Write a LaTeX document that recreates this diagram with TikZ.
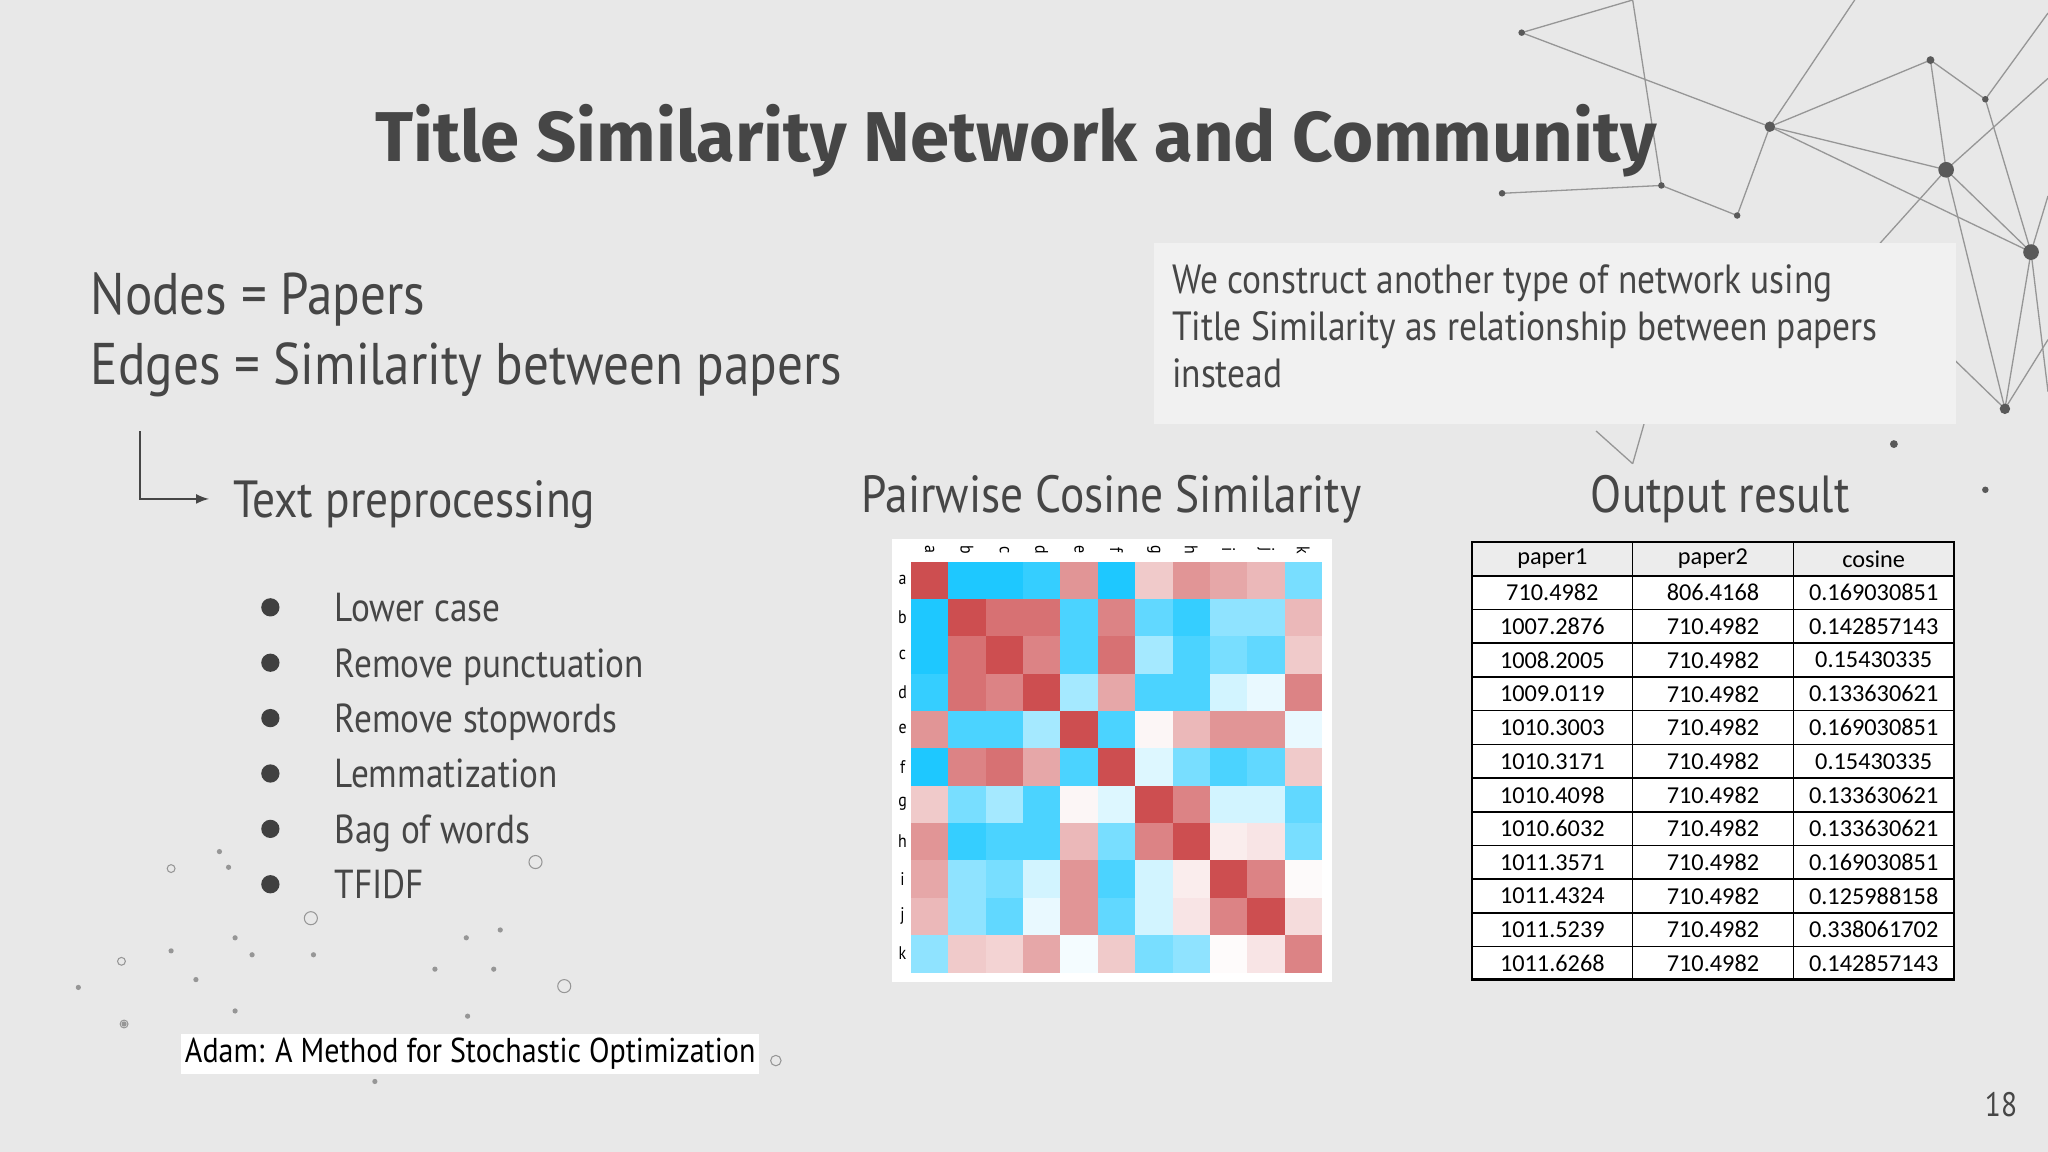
\documentclass[tikz,border=0pt]{standalone}
\usepackage{fontspec}
\setmainfont[FakeStretch=0.87]{PT Sans}
\newfontfamily\titlefont{Fira Sans}
\newfontfamily\tabfont{Carlito}
\definecolor{bgc}{RGB}{232,232,232}
\definecolor{txt}{RGB}{70,70,70}
\definecolor{hred}{RGB}{205,78,80}
\definecolor{hblue}{RGB}{30,200,255}
\definecolor{netc}{RGB}{150,150,150}
\begin{document}
\begin{tikzpicture}[x=0.5pt,y=-0.5pt,
  body/.style={anchor=base west,text=txt,inner sep=0},
  bul/.style={anchor=base west,text=txt,inner sep=0,font=\fontsize{15.5}{18}\selectfont},
  cell/.style={draw=black,line width=0.6pt,minimum width=61.5pt,minimum height=12.9pt,inner sep=0,font=\tabfont\fontsize{9.3}{10}\selectfont},
  net/.style={netc,line width=0.5pt},
  dotc/.style={netc,line width=0.4pt}]
\fill[bgc] (0,0) rectangle (1568,882);
\useasboundingbox (0,0) rectangle (1568,882);
% network decoration
\foreach \a/\b/\c/\d in {1165/25/1250/0, 1165/25/1355/97, 1355/97/1478/46, 1355/97/1490/130, 1478/46/1490/130, 1490/130/1555/193, 1520/76/1555/193, 1478/46/1520/76, 1355/97/1555/193, 1555/193/1535/313, 1490/130/1535/313, 1150/148/1272/142, 1272/142/1330/165, 1330/165/1355/97, 1355/97/1420/0, 1490/130/1568/60, 1555/193/1568/300, 1535/313/1568/260, 1520/76/1568/10, 1555/193/1568/150, 1272/142/1250/0, 1490/130/1400/230, 1535/313/1470/250, 1222/330/1250/355, 1250/355/1260/320}
  {\draw[net] (\a,\b) -- (\c,\d);}
\foreach \a/\b/\r in {1165/25/2.5,1355/97/4,1478/46/3,1490/130/6,1555/193/6,1520/76/2.5,1535/313/4,1150/148/2.5,1272/142/2.5,1330/165/2.5,1450/340/3,1520/375/2.5}
  {\fill[gray!70!black] (\a,\b) circle (\r);}
% bottom-left dots
\foreach \a/\b in {168/652,175/664,180/718,131/728,193/731,240/731,150/750,357/718,383/712,333/742,358/778,378/742,180/774,60/756,95/784,287/828}
  {\fill[netc] (\a,\b) circle (2);}
\foreach \a/\b/\r in {131/665/3,238/703/5,410/660/5,432/755/5,93/736/3,95/784/3,594/812/4}
  {\draw[dotc] (\a,\b) circle (\r);}
% title
\node[text=txt,font=\titlefont\bfseries\fontsize{27}{32}\selectfont] (title) at (778,108) {Title Similarity Network and Community};
% left
\node[body,font=\fontsize{22.5}{27}\selectfont] (nodes) at (69,241) {Nodes = Papers};
\node[body,font=\fontsize{22.5}{27}\selectfont] (edges) at (69,294) {Edges = Similarity between papers};
\coordinate (ac) at (107,330);
\node[body,font=\fontsize{20}{24}\selectfont] (tp) at (178,396) {Text preprocessing};
\draw[txt,line width=0.7pt,-latex] (ac) |- (160,382);
\foreach \t [count=\i] in {Lower case,Remove punctuation,Remove stopwords,Lemmatization,Bag of words,TFIDF}{
  \fill[black!75] (207,{465+42.4*(\i-1)}) circle (7);
  \node[bul] (b\i) at (256,{476+42.4*(\i-1)}) {\t};
}
\node[fill=white,inner sep=1.5pt,font=\fontsize{13.2}{15}\selectfont,text=black] (ref) at (360,807) {Adam: A Method for Stochastic Optimization};
% right box
\node[fill=bgc!60!white,anchor=north west,minimum width=307pt,minimum height=69pt,inner sep=0] (box) at (883,186) {};
\node[anchor=north west,text=txt,align=left,font=\fontsize{15.6}{18}\selectfont,inner sep=0] (boxt) at (897,202) {We construct another type of network using\\Title Similarity as relationship between papers\\instead};
% headings
\node[text=txt,font=\fontsize{20}{24}\selectfont] (pcs) at (851,382) {Pairwise Cosine Similarity};
\node[text=txt,font=\fontsize{20}{24}\selectfont] (out) at (1317,382) {Output result};
% heatmap
\fill[white] (683,413) rectangle (1020,752);
\def\cs{28.6}
\foreach \row [count=\r] in {
 {10,-10,-10,-9,6,-10,3,6,5,4,-6},
 {-10,10,8,8,-8,7,-7,-9,-5,-5,4},
 {-10,8,10,7,-8,8,-4,-8,-6,-7,3},
 {-9,8,7,10,-4,5,-8,-8,-2,-1,7},
 {6,-8,-8,-4,10,-8,0.5,4,6,6,-1},
 {-10,7,8,5,-8,10,-1.5,-6,-8,-7,3},
 {3,-6,-4,-8,0.5,-1.5,10,7,-2,-2,-7},
 {6,-9,-8,-8,4,-6,7,10,1,1.5,-6},
 {5,-5,-6,-2,6,-8,-2,1,10,7,0.3},
 {4,-5,-7,-1,6,-7,-2,1.5,7,10,2},
 {-5,3,2.5,5,-0.5,3,-6,-5,0.2,1.5,7}}{
  \foreach \v [count=\c] in \row {
    \pgfmathsetmacro\pc{abs(\v)*10}
    \pgfmathparse{\v>=0?1:0}
    \ifnum\pgfmathresult=1 \def\hc{hred}\else\def\hc{hblue}\fi
    \fill[\hc!\pc!white] ({697.5+\cs*(\c-1)},{430+\cs*(\r-1)}) rectangle +(\cs+0.3,\cs+0.3);
  }
}
\foreach \l [count=\i] in {a,b,c,d,e,f,g,h,i,j,k}{
  \node[font=\fontsize{7}{8}\selectfont,inner sep=0] (r\i) at (691,{444+\cs*(\i-1)}) {\l};
  \node[font=\fontsize{7}{8}\selectfont,inner sep=0,rotate=-90] (c\i) at ({711.8+\cs*(\i-1)},421) {\l};
}
% table
\def\rh{25.8}
\foreach \x [count=\i] in {paper1,paper2,cosine}{
  \node[cell,fill=gray!15] (h\i) at ({1188.5+123*(\i-1)},428) {\x};}
\foreach \a/\b/\c [count=\r] in {710.4982/806.4168/0.169030851,1007.2876/710.4982/0.142857143,1008.2005/710.4982/0.15430335,1009.0119/710.4982/0.133630621,1010.3003/710.4982/0.169030851,1010.3171/710.4982/0.15430335,1010.4098/710.4982/0.133630621,1010.6032/710.4982/0.133630621,1011.3571/710.4982/0.169030851,1011.4324/710.4982/0.125988158,1011.5239/710.4982/0.338061702,1011.6268/710.4982/0.142857143}{
  \node[cell,fill=white] (t\r a) at (1188.5,{428+\rh*\r}) {\a};
  \node[cell,fill=white] (t\r b) at (1311.5,{428+\rh*\r}) {\b};
  \node[cell,fill=white] (t\r c) at (1434.5,{428+\rh*\r}) {\c};
}
\draw[black,line width=1pt] (1127,415) rectangle (1496,750);
\node[text=txt,font=\fontsize{13}{15}\selectfont] (pg) at (1532,846) {18};
\end{tikzpicture}
\end{document}
